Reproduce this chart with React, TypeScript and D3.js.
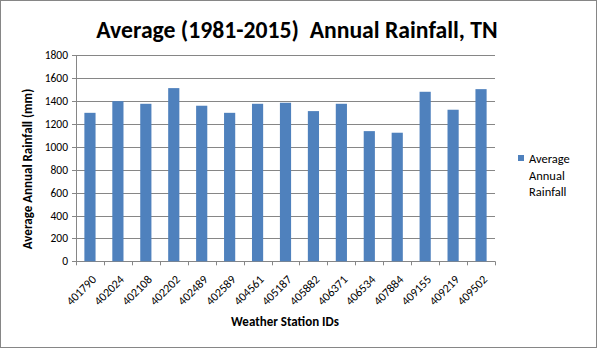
import React from "react";
import * as d3 from "d3";

const stations = ["401790","402024","402108","402202","402489","402589","404561","405187","405882","406371","406534","407884","409155","409219","409502"];
const rainfall = [1298,1400,1377,1514,1360,1298,1377,1386,1313,1377,1138,1124,1482,1325,1505];
const yTicks = [0,200,400,600,800,1000,1200,1400,1600,1800];
const seriesName = ["Average","Annual","Rainfall"];

const W = 597, H = 348;
const left = 76, right = 495, top = 55.4, bottom = 261.3;
const font = "Carlito, Calibri, Lato, 'Open Sans', sans-serif";

export default function App() {
  const band = d3.scaleBand<string>().domain(stations).range([left, right]);
  const y = d3.scaleLinear().domain([0, 1800]).range([bottom, top]);
  return (
    <div style={{ position: "fixed", left: 0, top: 0 }}>
      <svg width={W} height={H} style={{ display: "block", background: "#fff" }} fontFamily={font}>
        <rect x={0.5} y={0.5} width={W - 1} height={H - 1} fill="#fff" stroke="#868686" />
        <text x={297} y={38} textAnchor="middle" fontSize={23.7} fontWeight="bold" fill="#000" style={{ whiteSpace: "pre" }}>
          {"Average (1981-2015)  Annual Rainfall, TN"}
        </text>
        {yTicks.map((t) => (
          <g key={t}>
            <line x1={72} x2={right} y1={Math.round(y(t)) + 0.5} y2={Math.round(y(t)) + 0.5} stroke="#868686" strokeWidth={1} />
            <text x={68} y={y(t)} dy="0.35em" textAnchor="end" fontSize={11.5} fill="#000">{t}</text>
          </g>
        ))}
        <line x1={76.5} x2={76.5} y1={top} y2={bottom} stroke="#868686" />
        {stations.map((s, i) => (
          <rect key={s} x={band(s)! + band.bandwidth() / 2 - band.bandwidth() / 5} width={band.bandwidth() / 2.5}
            y={y(rainfall[i])} height={bottom - y(rainfall[i])} fill="#4F81BD" />
        ))}
        {stations.map((s) => (
          <line key={s + "t"} x1={Math.round(band(s)!) + 0.5} x2={Math.round(band(s)!) + 0.5} y1={bottom} y2={bottom + 4} stroke="#868686" />
        ))}
        <line x1={right + 0.5} x2={right + 0.5} y1={bottom} y2={bottom + 4} stroke="#868686" />
        {stations.map((s) => (
          <text key={s + "l"} transform={`translate(${band(s)! + band.bandwidth() / 2 + 4},${bottom + 16}) rotate(-45)`}
            textAnchor="end" dy="0.35em" fontSize={12} fill="#000">{s}</text>
        ))}
        <text x={285} y={326} textAnchor="middle" fontSize={13} fontWeight="bold" fill="#000">Weather Station IDs</text>
        <text transform={`translate(32,169) rotate(-90)`} textAnchor="middle" fontSize={13} fontWeight="bold" fill="#000">Average Annual Rainfall (mm)</text>
        <rect x={518} y={155} width={6} height={6} fill="#4F81BD" />
        {seriesName.map((n, i) => (
          <text key={n} x={529} y={163 + i * 16.5} fontSize={12.5} fill="#000">{n}</text>
        ))}
      </svg>
    </div>
  );
}
